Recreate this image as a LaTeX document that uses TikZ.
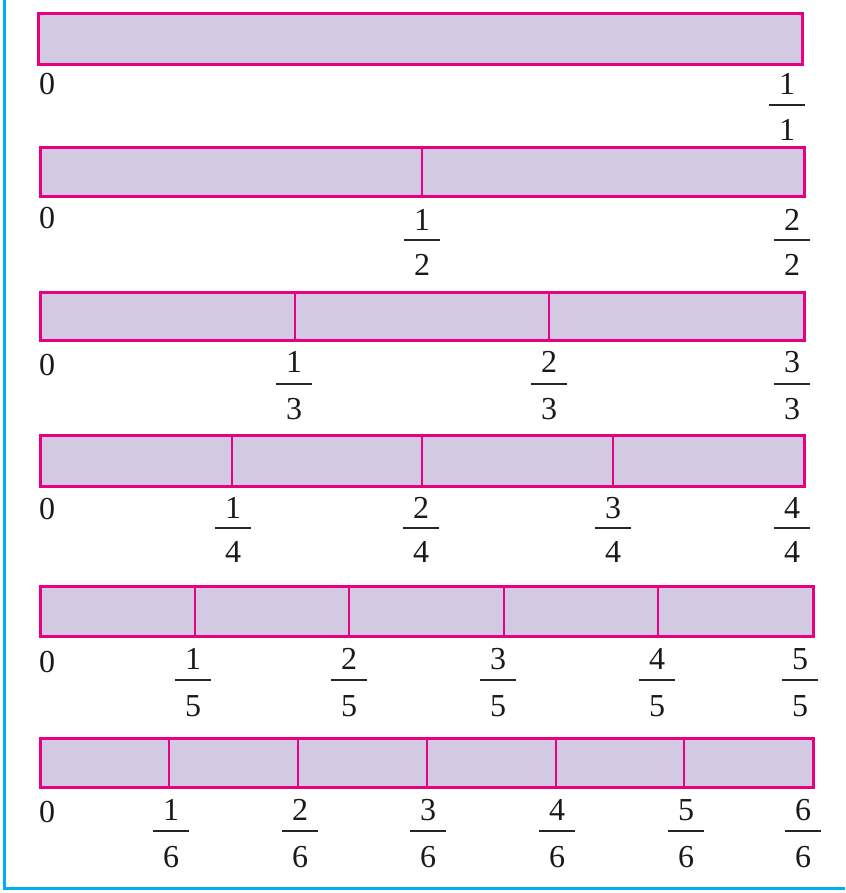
\documentclass[tikz,border=0pt]{standalone}
\usepackage{fontspec}
\setmainfont{Liberation Serif}
\definecolor{barpink}{RGB}{232,0,132}
\definecolor{barfill}{RGB}{212,201,227}
\definecolor{framecyan}{RGB}{0,174,239}
\newcommand\fracat[7]{%
  \node[digit] (#1n) at (#2,#3) {#6};
  \coordinate (#1l) at ({#2-18},#4);
  \coordinate (#1r) at ({#2+18},#4);
  \draw[fracbar] (#1l) -- (#1r);
  \node[digit] (#1d) at (#2,#5) {#7};}
\begin{document}
\begin{tikzpicture}[x=1pt,y=-1pt,
  barbox/.style={draw=barpink, fill=barfill, line width=3pt},
  divline/.style={draw=barpink, line width=2.5pt},
  digit/.style={inner sep=0pt, font=\fontsize{32}{36}\selectfont, text=black!90},
  fracbar/.style={line width=2.6pt, black!85}]
\useasboundingbox (0,0) rectangle (845,893);
\coordinate (fa) at (4.5,0);
\coordinate (fb) at (4.5,888);
\coordinate (fc) at (845,888);
\draw[framecyan, line width=3pt] (fa) -- (fb) -- (fc);

% bar 1
\coordinate (b1nw) at (38,14); \coordinate (b1se) at (802,65);
\draw[barbox] (b1nw) rectangle (b1se);
\node[digit] (z1) at (47,84) {0};
\fracat{f11}{787}{84}{105}{130}{1}{1}

% bar 2
\coordinate (b2nw) at (40,148); \coordinate (b2se) at (804,197);
\draw[barbox] (b2nw) rectangle (b2se);
\foreach \x [count=\i] in {422}{
  \coordinate (b2t\i) at (\x,148); \coordinate (b2b\i) at (\x,197);
  \draw[divline] (b2t\i) -- (b2b\i);}
\node[digit] (z2) at (47,218) {0};
\foreach \x [count=\k] in {422,792}{\fracat{f2\k}{\x}{220}{240}{265}{\k}{2}}

% bar 3
\coordinate (b3nw) at (40,292); \coordinate (b3se) at (804,340);
\draw[barbox] (b3nw) rectangle (b3se);
\foreach \x [count=\i] in {295,549}{
  \coordinate (b3t\i) at (\x,292); \coordinate (b3b\i) at (\x,340);
  \draw[divline] (b3t\i) -- (b3b\i);}
\node[digit] (z3) at (47,365) {0};
\foreach \x [count=\k] in {294,549,792}{\fracat{f3\k}{\x}{362}{384}{409}{\k}{3}}

% bar 4
\coordinate (b4nw) at (40,435); \coordinate (b4se) at (804,486);
\draw[barbox] (b4nw) rectangle (b4se);
\foreach \x [count=\i] in {232,422,613}{
  \coordinate (b4t\i) at (\x,435); \coordinate (b4b\i) at (\x,486);
  \draw[divline] (b4t\i) -- (b4b\i);}
\node[digit] (z4) at (47,509) {0};
\foreach \x [count=\k] in {233,421,613,792}{\fracat{f4\k}{\x}{508}{528}{552}{\k}{4}}

% bar 5
\coordinate (b5nw) at (40,586); \coordinate (b5se) at (813,636);
\draw[barbox] (b5nw) rectangle (b5se);
\foreach \x [count=\i] in {195,349,504,658}{
  \coordinate (b5t\i) at (\x,586); \coordinate (b5b\i) at (\x,636);
  \draw[divline] (b5t\i) -- (b5b\i);}
\node[digit] (z5) at (47,662) {0};
\foreach \x [count=\k] in {193,349,498,657,800}{\fracat{f5\k}{\x}{659}{680}{706}{\k}{5}}

% bar 6
\coordinate (b6nw) at (40,738); \coordinate (b6se) at (813,787);
\draw[barbox] (b6nw) rectangle (b6se);
\foreach \x [count=\i] in {169,298,427,556,684}{
  \coordinate (b6t\i) at (\x,738); \coordinate (b6b\i) at (\x,787);
  \draw[divline] (b6t\i) -- (b6b\i);}
\node[digit] (z6) at (47,812) {0};
\foreach \x [count=\k] in {171,300,428,557,686,803}{\fracat{f6\k}{\x}{810}{831}{857}{\k}{6}}
\end{tikzpicture}
\end{document}
